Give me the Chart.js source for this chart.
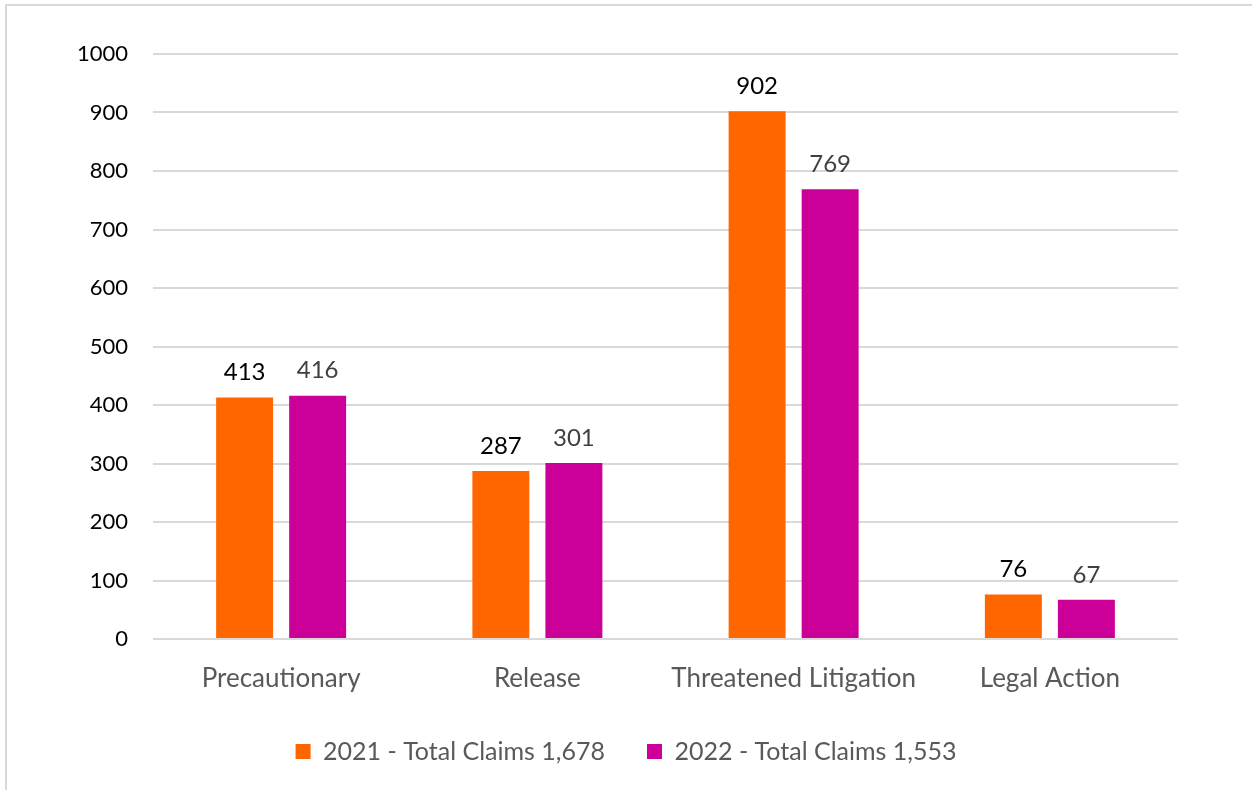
<!DOCTYPE html>
<html>
<head>
<meta charset="utf-8">
<script src="https://cdn.jsdelivr.net/npm/chart.js@4"></script>
<style>
  html, body { margin: 0; padding: 0; background: #fff; }
  #wrap { position: relative; width: 1252px; height: 790px; overflow: hidden; }
  #frame { position: absolute; left: 5px; top: 4px; width: 1300px; height: 900px; border: 2px solid #d9d9d9; box-sizing: border-box; }
  canvas { position: absolute; left: 0; top: 0; }
</style>
</head>
<body>
<div id="wrap">
  <div id="frame"></div>
  <canvas id="claimsChart" width="1252" height="790"></canvas>
</div>
<script>
const categories = ['Precautionary', 'Release', 'Threatened Litigation', 'Legal Action'];
const claims2021 = [413, 287, 902, 76];
const claims2022 = [416, 301, 769, 67];
const seriesNames = ['2021 - Total Claims 1,678', '2022 - Total Claims 1,553'];

const FONT = 'Lato, "Open Sans", sans-serif';

// draws the value above each bar
const valueLabels = {
  id: 'valueLabels',
  afterDatasetsDraw(chart) {
    const ctx = chart.ctx;
    const colors = ['#000000', '#404040'];
    ctx.save();
    ctx.font = '24px ' + FONT;
    ctx.textAlign = 'center';
    ctx.textBaseline = 'bottom';
    chart.data.datasets.forEach((ds, i) => {
      const meta = chart.getDatasetMeta(i);
      ctx.fillStyle = colors[i];
      meta.data.forEach((bar, j) => {
        ctx.fillText(ds.data[j], bar.x, bar.y - 13);
      });
    });
    ctx.restore();
  }
};

const ctx = document.getElementById('claimsChart').getContext('2d');

new Chart(ctx, {
  type: 'bar',
  data: {
    labels: categories,
    datasets: [
      {
        label: seriesNames[0],
        data: claims2021,
        backgroundColor: '#ff6600',
        categoryPercentage: 0.57,
        barPercentage: 0.78
      },
      {
        label: seriesNames[1],
        data: claims2022,
        backgroundColor: '#cc0099',
        categoryPercentage: 0.57,
        barPercentage: 0.78
      }
    ]
  },
  options: {
    responsive: false,
    animation: false,
    layout: {
      padding: { top: 54, right: 0, bottom: 16, left: 0 }
    },
    plugins: {
      legend: {
        position: 'bottom',
        labels: {
          font: { family: FONT, size: 25 },
          color: '#595959',
          boxWidth: 15,
          boxHeight: 15,
          padding: 42
        }
      },
      tooltip: { enabled: false }
    },
    scales: {
      x: {
        grid: { display: false },
        border: { display: false },
        ticks: {
          font: { family: FONT, size: 26 },
          color: '#595959',
          padding: 16
        },
        afterFit(scale) { scale.height = 58; }
      },
      y: {
        min: 0,
        max: 1000,
        ticks: {
          stepSize: 100,
          font: { family: FONT, size: 22 },
          color: '#000000',
          padding: 25,
          callback: (v) => String(v)
        },
        grid: { color: '#d9d9d9', lineWidth: 2, drawTicks: false },
        border: { display: false },
        afterFit(scale) { scale.width = 153; }
      },
      // empty spacer on the right so the legend centres on the whole frame
      spacer: {
        position: 'right',
        ticks: { display: false },
        grid: { display: false },
        border: { display: false },
        afterFit(scale) { scale.width = 74; }
      }
    }
  },
  plugins: [valueLabels]
});
</script>
</body>
</html>
